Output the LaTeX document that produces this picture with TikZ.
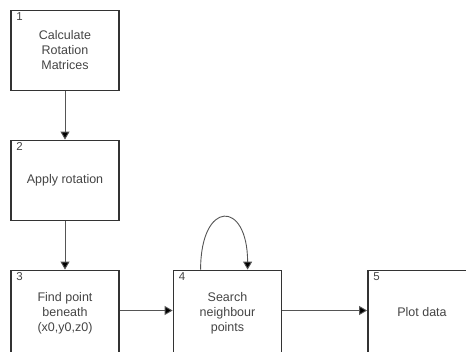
\documentclass[tikz,border=0pt]{standalone}
\usepackage{fontspec}
\setmainfont{Liberation Sans}
\usetikzlibrary{arrows.meta,calc}
\definecolor{linec}{HTML}{333333}
\definecolor{textc}{HTML}{444444}
\definecolor{arrc}{HTML}{555555}
\newcommand{\uptext}[1]{\raisebox{3pt}{\begin{tabular}{@{}c@{}}#1\end{tabular}}}
\begin{document}
\begin{tikzpicture}[x=1pt,y=-1pt,
  box/.style={draw=linec,line width=1.8pt,rectangle,minimum width=108pt,minimum height=80pt,
    align=center,text=textc,font=\fontsize{12.5}{15}\selectfont,inner sep=0pt},
  lowbox/.style={box,minimum height=86pt},
  numlbl/.style={anchor=north west,text=textc,font=\fontsize{11.5}{14}\selectfont,inner sep=0pt},
  conn/.style={draw=arrc,line width=0.9pt,-{Triangle[length=8pt,width=9pt,fill=black]}}]
\useasboundingbox (0,0) rectangle (466,351);
\clip (0,0) rectangle (466,351);
\node[box] (b1) at (65,50.5) {Calculate\\Rotation\\Matrices};
\node[box] (b2) at (65,180.5) {Apply rotation};
\node[lowbox] (b3) at (65,313.5) {\uptext{Find point\\beneath\\(x0,y0,z0)}};
\node[lowbox] (b4) at (227.5,313.5) {\uptext{Search\\neighbour\\points}};
\node[lowbox] (b5) at (422,313.5) {\uptext{Plot data}};
\node[numlbl] (n1) at ($(b1.north west)+(6,3)$) {1};
\node[numlbl] (n2) at ($(b2.north west)+(6,3)$) {2};
\node[numlbl] (n3) at ($(b3.north west)+(6,3)$) {3};
\node[numlbl] (n4) at ($(b4.north west)+(6,3)$) {4};
\node[numlbl] (n5) at ($(b5.north west)+(6,3)$) {5};
\draw[conn] (b1) -- (b2);
\draw[conn] (b2) -- (b3);
\draw[conn] (b3.east |- 0,310.5) coordinate (a34) -- (a34 -| b4.west);
\draw[conn] (b4.east |- 0,310.5) coordinate (a45) -- (a45 -| b5.west);
\coordinate (ls) at ($(b4.north west)+(28,0)$);
\coordinate (le) at ($(b4.north west)+(75,0)$);
\draw[conn] (ls) .. controls ($(ls)+(0,-70)$) and ($(le)+(0,-70)$) .. (le);
\end{tikzpicture}
\end{document}
